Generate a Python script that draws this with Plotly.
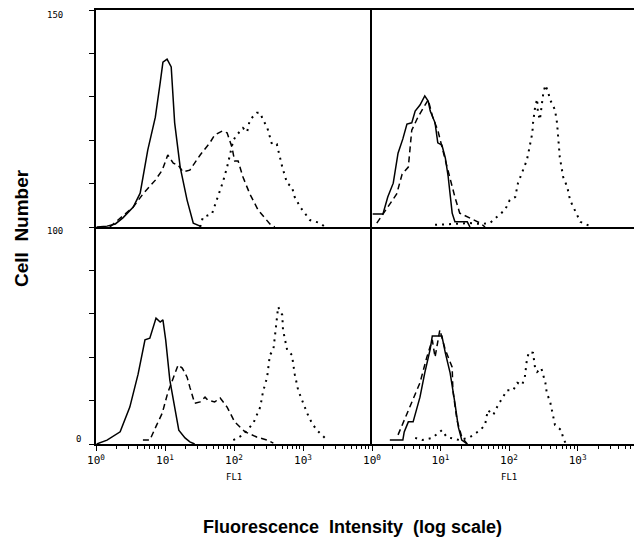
import numpy as np
import plotly.graph_objects as go

# ---------------- data (x as log10 FL1, y as cell counts per panel) ----------------
# Top-left panel
tl_solid_log = [0.01, 0.16, 0.28, 0.39, 0.54, 0.64, 0.75, 0.86, 0.93, 0.97, 1.03, 1.09, 1.14, 1.22, 1.32, 1.41, 1.51]
tl_solid_y = [0, 0.2, 0.7, 2.1, 4.6, 7.8, 17.7, 25.3, 33.2, 38.0, 38.7, 36.9, 24.0, 13.8, 6.2, 0.9, 0.2]
tl_dash_log = [0.20, 0.54, 0.68, 0.86, 0.96, 1.04, 1.12, 1.19, 1.26, 1.36, 1.51, 1.65, 1.72, 1.83, 1.90, 1.97, 2.01, 2.06, 2.13, 2.23, 2.35, 2.52, 2.59]
tl_dash_y = [0, 4.6, 7.6, 10.8, 13.1, 16.6, 14.7, 14.3, 12.7, 13.1, 16.6, 19.4, 21.2, 22.1, 21.7, 18.4, 15.2, 15.2, 11.5, 7.6, 3.9, 0.7, 0]
tl_dot_log = [1.51, 1.55, 1.68, 1.77, 1.84, 1.90, 1.99, 2.04, 2.13, 2.19, 2.23, 2.33, 2.38, 2.42, 2.48, 2.55, 2.62, 2.70, 2.77, 2.84, 2.88, 2.96, 3.10, 3.25, 3.32]
tl_dot_y = [0, 2.3, 3.0, 6.9, 10.4, 13.8, 20.0, 21.2, 22.8, 21.9, 24.7, 26.3, 26.3, 24.7, 23.0, 19.1, 19.1, 13.8, 10.1, 9.2, 6.9, 4.6, 1.6, 0.9, 0]

# Top-right panel
tr_solid_log = [0.01, 0.16, 0.23, 0.31, 0.38, 0.45, 0.51, 0.58, 0.63, 0.70, 0.77, 0.82, 0.85, 0.92, 0.96, 1.02, 1.07, 1.11, 1.17, 1.21, 1.39, 1.43]
tr_solid_y = [3.0, 3.0, 6.9, 10.1, 17.0, 20.3, 23.7, 24.0, 26.7, 28.1, 30.2, 29.0, 26.7, 24.0, 19.4, 18.9, 15.9, 11.8, 3.2, 1.2, 1.2, 0]
tr_dash_log = [0.07, 0.23, 0.36, 0.44, 0.53, 0.58, 0.67, 0.74, 0.82, 0.89, 0.96, 1.07, 1.14, 1.21, 1.28, 1.43, 1.58, 1.65]
tr_dash_y = [0.9, 4.6, 7.6, 12.2, 13.8, 22.3, 25.3, 27.2, 29.3, 25.1, 22.3, 15.4, 10.8, 6.9, 3.2, 2.1, 0.9, 0]
tr_dot_log = [0.92, 1.21, 1.43, 1.58, 1.72, 1.87, 1.94, 2.01, 2.09, 2.13, 2.19, 2.26, 2.29, 2.34, 2.35, 2.38, 2.41, 2.42, 2.45, 2.48, 2.50, 2.53, 2.57, 2.60, 2.67, 2.70, 2.72, 2.74, 2.79, 2.85, 2.89, 2.96, 3.04, 3.21]
tr_dot_y = [0.5, 0.7, 0.9, 0.7, 0.9, 3.0, 3.9, 6.2, 6.9, 10.1, 12.4, 15.4, 17.7, 21.7, 24.0, 27.6, 29.5, 26.5, 24.7, 28.6, 30.9, 32.7, 31.1, 29.3, 27.0, 24.0, 19.4, 16.1, 11.5, 9.2, 6.2, 3.9, 1.2, 0]

# Bottom-left panel
bl_solid_log = [0.01, 0.16, 0.35, 0.49, 0.61, 0.71, 0.78, 0.83, 0.87, 0.93, 0.97, 1.01, 1.07, 1.14, 1.20, 1.29, 1.36, 1.43]
bl_solid_y = [0, 0.9, 2.8, 8.5, 16.1, 24.0, 24.4, 27.0, 29.0, 28.1, 28.6, 24.0, 14.7, 8.5, 3.2, 1.4, 0.5, 0]
bl_dash_log = [0.68, 0.78, 0.88, 0.96, 1.04, 1.12, 1.19, 1.25, 1.32, 1.36, 1.43, 1.51, 1.58, 1.62, 1.72, 1.80, 1.90, 2.01, 2.16, 2.33, 2.48, 2.57]
bl_dash_y = [0.9, 0.9, 4.4, 7.1, 11.8, 15.2, 18.2, 17.5, 15.4, 13.1, 9.4, 9.7, 10.8, 10.1, 9.7, 10.6, 8.5, 5.1, 2.8, 1.6, 0.9, 0.2]
bl_dot_log = [1.99, 2.13, 2.28, 2.38, 2.42, 2.48, 2.52, 2.57, 2.59, 2.62, 2.64, 2.70, 2.71, 2.77, 2.84, 2.88, 2.93, 3.06, 3.13, 3.20, 3.35]
bl_dot_y = [0.9, 2.1, 4.8, 8.5, 12.0, 15.4, 20.5, 21.7, 24.4, 28.6, 31.6, 29.7, 26.3, 21.7, 20.5, 16.1, 12.4, 7.1, 4.8, 3.2, 0.9]

# Bottom-right panel
br_solid_log = [0.26, 0.45, 0.47, 0.53, 0.60, 0.70, 0.77, 0.85, 0.88, 1.02, 1.07, 1.14, 1.21, 1.26, 1.31, 1.39]
br_solid_y = [0.9, 0.9, 2.8, 5.1, 5.1, 10.8, 16.4, 21.9, 24.9, 24.9, 21.0, 16.4, 9.4, 3.9, 0.9, 0]
br_dash_log = [0.38, 0.58, 0.70, 0.80, 0.88, 0.92, 0.99, 1.07, 1.17, 1.18, 1.24, 1.31, 1.39]
br_dash_y = [2.1, 9.4, 14.1, 20.0, 24.0, 20.0, 26.3, 21.7, 17.7, 12.4, 5.5, 1.6, 0]
br_dot_log = [0.63, 0.73, 0.88, 1.02, 1.09, 1.28, 1.43, 1.58, 1.65, 1.69, 1.77, 1.84, 1.91, 1.97, 2.06, 2.12, 2.19, 2.23, 2.26, 2.29, 2.35, 2.38, 2.41, 2.47, 2.53, 2.55, 2.60, 2.63, 2.67, 2.76, 2.79, 2.83]
br_dot_y = [1.4, 0.9, 1.4, 3.2, 1.6, 0.9, 1.6, 3.2, 4.4, 7.8, 6.7, 9.0, 10.8, 12.4, 12.4, 14.1, 13.6, 15.4, 19.4, 21.2, 21.0, 17.5, 16.6, 17.5, 14.1, 11.8, 9.7, 7.1, 4.4, 3.2, 1.4, 0]

x_tick_vals = [1, 10, 100, 1000]
x_tick_text = ["10<sup>0</sup>", "10<sup>1</sup>", "10<sup>2</sup>", "10<sup>3</sup>"]
y_label_text = ["150", "100", "0"]
x_title = "Fluorescence  Intensity  (log scale)"
y_title = "Cell  Number"
fl_label = "FL1"

# ---------------- figure ----------------
# page body has an 8px default margin, so the figure is drawn 8px smaller and offset
OFF = 8
W, H = 642 - OFF, 541 - OFF
ML, MR, MT, MB = 96 - OFF, 0, 10 - OFF, 541 - 444
PW, PH = W - ML - MR, H - MT - MB
split = 276 / PW


def px(xr):
    return (xr - OFF - ML) / PW


def py(yr):
    return (H - MB - (yr - OFF)) / PH


fig = go.Figure()

panels = [
    ("x3", "y3", tl_solid_log, tl_solid_y, tl_dash_log, tl_dash_y, tl_dot_log, tl_dot_y),
    ("x4", "y4", tr_solid_log, tr_solid_y, tr_dash_log, tr_dash_y, tr_dot_log, tr_dot_y),
    ("x", "y", bl_solid_log, bl_solid_y, bl_dash_log, bl_dash_y, bl_dot_log, bl_dot_y),
    ("x2", "y2", br_solid_log, br_solid_y, br_dash_log, br_dash_y, br_dot_log, br_dot_y),
]
for xa, ya, sl, sy, dl, dy, ol, oy in panels:
    fig.add_trace(go.Scatter(x=np.power(10.0, sl), y=sy, xaxis=xa, yaxis=ya, mode="lines",
                             line=dict(color="black", width=1.5), showlegend=False, hoverinfo="skip"))
    fig.add_trace(go.Scatter(x=np.power(10.0, dl), y=dy, xaxis=xa, yaxis=ya, mode="lines",
                             line=dict(color="black", width=1.5, dash="6px,4px"), showlegend=False, hoverinfo="skip"))
    fig.add_trace(go.Scatter(x=np.power(10.0, ol), y=oy, xaxis=xa, yaxis=ya, mode="lines",
                             line=dict(color="black", width=2, dash="2px,5px"), showlegend=False, hoverinfo="skip"))

xtickfont = dict(family="DejaVu Sans Mono", size=11, color="black")
smallfont = dict(family="DejaVu Sans Mono", size=9, color="black")
bottom_x = dict(type="log", showline=True, linecolor="black", linewidth=2, showgrid=False, zeroline=False,
                ticks="outside", ticklen=5, tickwidth=1, tickcolor="black",
                tickvals=x_tick_vals, ticktext=x_tick_text, tickfont=xtickfont,
                minor=dict(ticks="outside", ticklen=3, tickwidth=1, tickcolor="black", dtick="D1", showgrid=False))
top_x = dict(type="log", showline=True, linecolor="black", linewidth=2, showgrid=False, zeroline=False,
             ticks="", showticklabels=False, mirror=True)
left_y = dict(range=[0, 50], showline=True, linecolor="black", linewidth=2, showgrid=False, zeroline=False,
              ticks="outside", ticklen=5, tickwidth=1, tickcolor="black", dtick=10, tick0=0,
              showticklabels=False)
right_y = dict(range=[0, 50], showline=True, linecolor="black", linewidth=2, showgrid=False, zeroline=False,
               ticks="", showticklabels=False)

fig.update_layout(
    width=W, height=H,
    margin=dict(l=ML, r=MR, t=MT, b=MB, pad=0),
    paper_bgcolor="white", plot_bgcolor="white",
    xaxis=dict(bottom_x, domain=[0, split], range=[0, 4], anchor="y"),
    xaxis2=dict(bottom_x, domain=[split, 1], range=[0, 3.94], anchor="y2"),
    xaxis3=dict(top_x, domain=[0, split], range=[0, 4], anchor="y3"),
    xaxis4=dict(top_x, domain=[split, 1], range=[0, 3.94], anchor="y4"),
    yaxis=dict(left_y, domain=[0, 0.5], anchor="x"),
    yaxis2=dict(right_y, domain=[0, 0.5], anchor="x2"),
    yaxis3=dict(left_y, domain=[0.5, 1], anchor="x3"),
    yaxis4=dict(right_y, domain=[0.5, 1], anchor="x4"),
)

label_pos = [(55, 15), (55, 231), (78, 439)]
annots = []
for txt, (lx, ly) in zip(y_label_text, label_pos):
    annots.append(dict(text=txt, xref="paper", yref="paper", x=px(lx), y=py(ly),
                       xanchor="center", yanchor="middle", showarrow=False, font=smallfont))
for xa in ["x", "x2"]:
    annots.append(dict(text=fl_label, xref=xa, yref="paper", x=2, y=py(477),
                       xanchor="center", yanchor="middle", showarrow=False, font=smallfont))
annots.append(dict(text="<b>" + x_title + "</b>", xref="paper", yref="paper",
                   x=px(352), y=py(527), xanchor="center", yanchor="middle", showarrow=False,
                   font=dict(family="Liberation Sans, Arial", size=18, color="black")))
annots.append(dict(text="<b>" + y_title + "</b>", xref="paper", yref="paper",
                   x=px(22), y=py(228), textangle=-90, xanchor="center", yanchor="middle", showarrow=False,
                   font=dict(family="Liberation Sans, Arial", size=19, color="black")))
fig.update_layout(annotations=annots)

fig.write_html("out.html")
